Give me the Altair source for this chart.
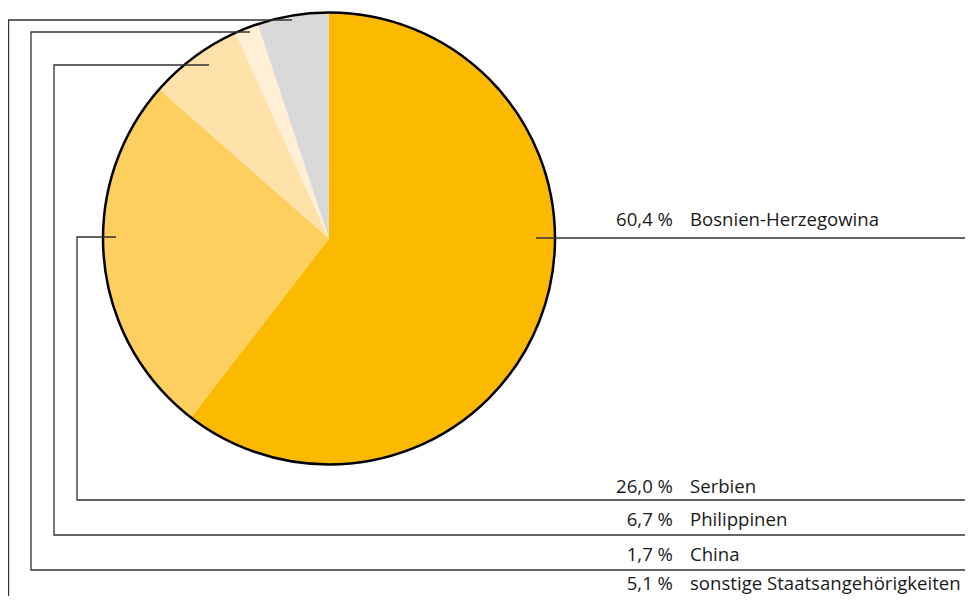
import math
import altair as alt
import pandas as pd

# ---- data ----
categories = ["Bosnien-Herzegowina", "Serbien", "Philippinen", "China",
              "sonstige Staatsangehörigkeiten"]
shares = [60.4, 26.0, 6.7, 1.7, 5.1]
colors = ["#FBBA00", "#FDCF5F", "#FEE2A9", "#FFF0D5", "#D9D9D9"]

# ---- layout (pixels, chart coordinates) ----
W, H = 957, 588
CX, CY, R = 321, 230.5, 226
# leader path points per category: list of (x, y)
leaders = [
    [(528, 230), (957, 230)],
    [(108, 229), (69, 229), (69, 492), (957, 492)],
    [(201, 57), (46, 57), (46, 527), (957, 527)],
    [(242, 24), (23, 24), (23, 562), (957, 562)],
    [(284, 12), (0.5, 12), (0.5, 588)],
]
label_baselines = [218, 485, 518, 553, 582]
pct_x, name_x = 665, 682
FONT = "Open Sans"
FS = 18.6

pie_df = pd.DataFrame({"category": categories, "share": shares,
                       "idx": list(range(len(categories)))})

rows = []
for cat, pts in zip(categories, leaders):
    for i, (x, y) in enumerate(pts):
        rows.append({"category": cat, "step": i, "px": x, "py": y})
lines_df = pd.DataFrame(rows)

lab_df = pd.DataFrame({
    "category": categories,
    "pct": [f"{v:.1f}".replace(".", ",") + " %" for v in shares],
    "py": label_baselines,
    "px_pct": [pct_x] * len(categories),
    "px_name": [name_x] * len(categories),
})

pie = alt.Chart(pie_df).mark_arc(radius=R).encode(
    theta=alt.Theta("share:Q", stack=True),
    color=alt.Color("category:N", scale=alt.Scale(domain=categories, range=colors), legend=None),
    order=alt.Order("idx:Q"),
    x=alt.value(CX),
    y=alt.value(CY),
)

outline = alt.Chart(pd.DataFrame({"o": [0]})).mark_arc(
    radius=R, theta=0, theta2=2 * math.pi, fill="white", fillOpacity=0,
    stroke="black", strokeWidth=2.5
).encode(x=alt.value(CX), y=alt.value(CY))

lines = alt.Chart(lines_df).mark_line(color="#333333", strokeWidth=1.3, strokeCap="butt").encode(
    x=alt.X("px:Q", scale=None, axis=None),
    y=alt.Y("py:Q", scale=None, axis=None),
    detail="category:N",
    order=alt.Order("step:Q"),
)

pct_text = alt.Chart(lab_df).mark_text(
    align="right", baseline="alphabetic", font=FONT, fontSize=FS, color="#1a1a1a"
).encode(
    x=alt.X("px_pct:Q", scale=None, axis=None),
    y=alt.Y("py:Q", scale=None, axis=None),
    text="pct:N",
)

name_text = alt.Chart(lab_df).mark_text(
    align="left", baseline="alphabetic", font=FONT, fontSize=FS, color="#1a1a1a"
).encode(
    x=alt.X("px_name:Q", scale=None, axis=None),
    y=alt.Y("py:Q", scale=None, axis=None),
    text="category:N",
)

chart = alt.layer(pie, outline, lines, pct_text, name_text).properties(
    width=W, height=H, padding=0, autosize="none", background="white"
).configure_view(stroke=None)

chart.save("out.html", embed_options={"renderer": "svg", "actions": False})
